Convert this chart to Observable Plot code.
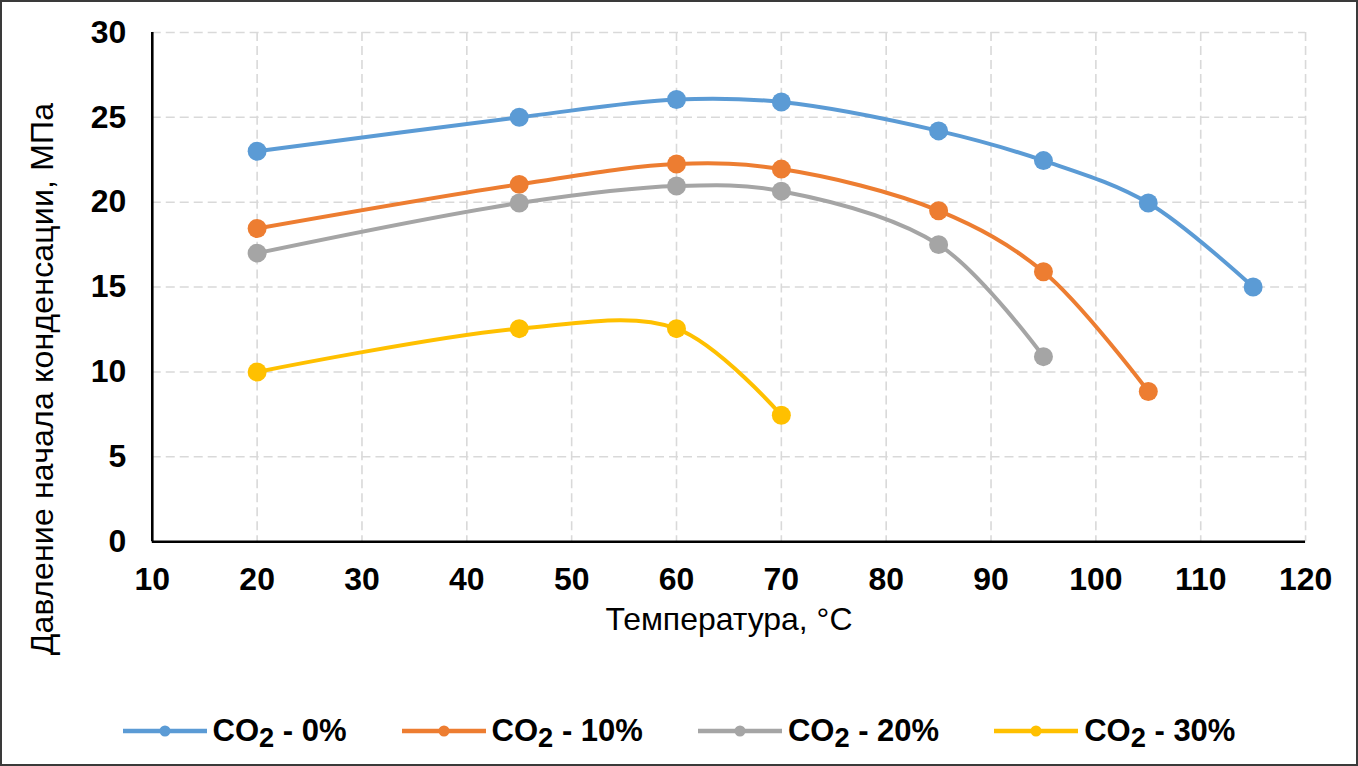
<!DOCTYPE html>
<html>
<head>
<meta charset="utf-8">
<script src="https://cdn.jsdelivr.net/npm/d3@7"></script>
<script src="https://cdn.jsdelivr.net/npm/@observablehq/plot@0.6"></script>
<style>
  html, body { margin: 0; padding: 0; background: #fff; }
  #wrap { position: relative; width: 1358px; height: 766px; box-sizing: border-box; border: 2px solid #3a3a3a; overflow: hidden; font-family: "Liberation Sans", Arial, sans-serif; background: #fff; }
  #chart { position: absolute; left: -2px; top: -2px; }
  #ytitle { position: absolute; left: 40px; top: 377px; transform: translate(-50%, -50%) rotate(-90deg); white-space: nowrap; font-size: 32px; line-height: 1; color: #000; letter-spacing: 0.2px; }
  #legend { position: absolute; left: -2px; top: 706px; width: 1358px; height: 46px; display: flex; justify-content: center; align-items: center; gap: 55px; }
  .item { display: flex; align-items: center; gap: 6px; font-weight: bold; font-size: 31px; color: #000; }
  .item sub { font-size: 0.88em; vertical-align: -0.22em; line-height: 0; }
</style>
</head>
<body>
<div id="wrap">
  <div id="chart"></div>
  <div id="ytitle"></div>
  <div id="legend"></div>
</div>
<script>
// ---- data ----
const temperature = [20, 45, 60, 70, 85, 95, 105, 115];
const co2_0  = [23.0, 25.0, 26.05, 25.9, 24.2, 22.45, 19.95, 15.0];
const co2_10 = [18.45, 21.05, 22.25, 21.95, 19.5, 15.9, 8.85];
const co2_20 = [17.0, 19.95, 20.95, 20.65, 17.5, 10.9];
const co2_30 = [10.0, 12.55, 12.55, 7.45];
const seriesPct = ["0%", "10%", "20%", "30%"];
const seriesColors = ["#5B9BD5", "#ED7D31", "#A5A5A5", "#FFC000"];
const xTicks = [10, 20, 30, 40, 50, 60, 70, 80, 90, 100, 110, 120];
const yTicks = [0, 5, 10, 15, 20, 25, 30];
const xTitle = "Температура, °С";
const yTitle = "Давление начала конденсации, МПа";

const seriesValues = [co2_0, co2_10, co2_20, co2_30];
const rows = seriesValues.flatMap((vals, i) =>
  vals.map((p, j) => ({series: seriesPct[i], t: temperature[j], p}))
);

const font = '"Liberation Sans", Arial, sans-serif';
const grid = {stroke: "#d9d9d9", strokeOpacity: 1, strokeWidth: 1.6, strokeDasharray: "9,5"};

const chart = Plot.plot({
  width: 1358,
  height: 680,
  marginLeft: 152,
  marginRight: 51,
  marginTop: 32,
  marginBottom: 138,
  style: {fontFamily: font, fontSize: "32px", color: "#000", background: "transparent", overflow: "visible"},
  x: {domain: [10, 120]},
  y: {domain: [0, 30]},
  color: {domain: seriesPct, range: seriesColors},
  marks: [
    Plot.gridX(xTicks.filter(v => v > 10), grid),
    Plot.gridY(yTicks.filter(v => v > 0), grid),
    Plot.axisX(xTicks, {tickSize: 0, tickPadding: 26, fontWeight: "bold", label: null, fontSize: 32}),
    Plot.axisY(yTicks, {tickSize: 0, tickPadding: 26, fontWeight: "bold", label: null, fontSize: 32}),
    Plot.ruleX([10], {stroke: "#000", strokeWidth: 2.6}),
    Plot.ruleY([0], {stroke: "#000", strokeWidth: 2.6}),
    Plot.line(rows, {x: "t", y: "p", z: "series", stroke: "series", strokeWidth: 4, curve: "catmull-rom"}),
    Plot.dot(rows, {x: "t", y: "p", fill: "series", r: 9.5}),
    Plot.text([xTitle], {frameAnchor: "bottom", dy: 88, fontSize: 32, fill: "#000"})
  ]
});
document.getElementById("chart").appendChild(chart);
document.getElementById("ytitle").textContent = yTitle;

// ---- legend ----
const legend = d3.select("#legend");
seriesPct.forEach((name, i) => {
  const item = legend.append("div").attr("class", "item");
  const sw = item.append("svg").attr("width", 84).attr("height", 20);
  sw.append("line").attr("x1", 0).attr("x2", 84).attr("y1", 10).attr("y2", 10)
    .attr("stroke", seriesColors[i]).attr("stroke-width", 4.5);
  sw.append("circle").attr("cx", 42).attr("cy", 10).attr("r", 5.5).attr("fill", seriesColors[i]);
  const label = item.append("span");
  label.append("span").text("CO");
  label.append("sub").text("2");
  label.append("span").text(" - " + name);
});
</script>
</body>
</html>
